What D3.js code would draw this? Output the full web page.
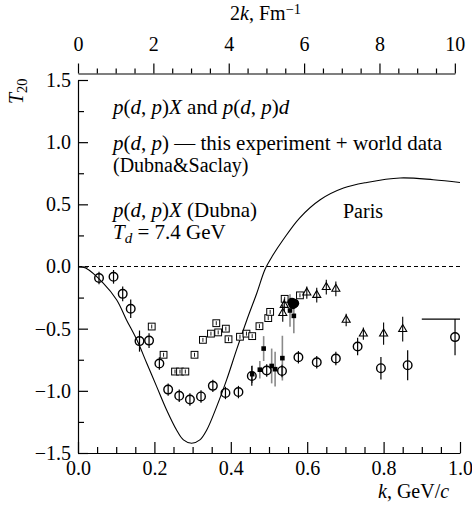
<!DOCTYPE html>
<html>
<head>
<meta charset="utf-8">
<script src="https://cdn.jsdelivr.net/npm/d3@7"></script>
<style>
  body { margin: 0; background: #fff; }
  svg { font-family: "Liberation Serif", "Times New Roman", serif; }
  .axis path, .axis line { stroke: #000; stroke-width: 1.2; }
  .axis text { font-size: 20px; fill: #000; font-family: "Liberation Serif", serif; }
</style>
</head>
<body>
<svg id="chart" width="472" height="506"></svg>
<script>
// T20 vs k
// open circles: p(d,p)X, Dubna   [k, T20, error]
var circlePts = [
  [0.055, -0.093, 0.05], [0.093, -0.083, 0.055], [0.117, -0.22, 0.06], [0.138, -0.34, 0.075],
  [0.161, -0.60, 0.085], [0.186, -0.596, 0.06], [0.213, -0.78, 0.04], [0.236, -0.99, 0.03],
  [0.265, -1.04, 0.03], [0.293, -1.07, 0.03], [0.322, -1.045, 0.03], [0.353, -0.96, 0.03],
  [0.386, -1.017, 0.03], [0.420, -1.01, 0.03], [0.455, -0.88, 0.08], [0.494, -0.837, 0.04],
  [0.534, -0.84, 0.05], [0.577, -0.73, 0.04], [0.625, -0.77, 0.045], [0.675, -0.74, 0.055],
  [0.732, -0.644, 0.07], [0.793, -0.818, 0.09], [0.863, -0.794, 0.12], [0.987, -0.568, 0.145]
];
// open squares: p(d,p)d world data   [k, T20]
var squarePts = [
  [0.193, -0.483], [0.224, -0.71], [0.254, -0.845], [0.267, -0.845], [0.281, -0.845],
  [0.305, -0.71], [0.327, -0.59], [0.348, -0.54], [0.362, -0.456], [0.367, -0.53],
  [0.387, -0.50], [0.394, -0.585], [0.424, -0.565], [0.441, -0.54], [0.456, -0.56],
  [0.475, -0.48], [0.498, -0.415], [0.503, -0.365], [0.541, -0.26], [0.581, -0.232]
];
// open triangles   [k, T20, error]
var trianglePts = [
  [0.536, -0.375, 0.07], [0.540, -0.31, 0.05], [0.599, -0.21, 0.05], [0.625, -0.23, 0.06],
  [0.650, -0.166, 0.06], [0.675, -0.18, 0.06], [0.702, -0.43, 0.05], [0.747, -0.54, 0.05],
  [0.800, -0.54, 0.09], [0.850, -0.504, 0.1]
];
// small filled squares (grey error bars)   [k, T20, error]
var filledSquarePts = [
  [0.456, -0.866, 0.07], [0.476, -0.83, 0.07], [0.486, -0.66, 0.1], [0.507, -0.80, 0.14],
  [0.516, -0.826, 0.14], [0.535, -0.737, 0.18], [0.555, -0.354, 0.13], [0.565, -0.397, 0.14]
];
// filled circles (overlapping cluster)
var filledCirclePts = [[0.560, -0.288], [0.567, -0.296], [0.563, -0.306]];
// horizontal segment at the right   [k1, k2, T20]
var rightSegment = [0.90, 1.0, -0.424];
// Paris potential curve   [k, T20]
var parisCurve = [
  [0, 0], [0.02, -0.013], [0.066, -0.134], [0.101, -0.268], [0.127, -0.43], [0.154, -0.59],
  [0.18, -0.778], [0.206, -0.966], [0.232, -1.154], [0.258, -1.315], [0.276, -1.395],
  [0.2975, -1.422], [0.319, -1.395], [0.337, -1.315], [0.363, -1.127], [0.389, -0.912],
  [0.415, -0.671], [0.442, -0.43], [0.468, -0.215], [0.49, -0.02], [0.51, 0.09],
  [0.537, 0.215], [0.58, 0.39], [0.634, 0.537], [0.695, 0.631], [0.756, 0.676],
  [0.843, 0.712], [0.93, 0.698], [1.0, 0.676]
];
// tick values
var kTicks = [0, 0.2, 0.4, 0.6, 0.8, 1.0];
var tTicks = [-1.5, -1.0, -0.5, 0, 0.5, 1.0, 1.5];
var fmTicks = [0, 2, 4, 6, 8, 10];

var svg = d3.select('#chart');
var x = d3.scaleLinear().domain([0, 1]).range([78, 460]);
var y = d3.scaleLinear().domain([-1.5, 1.5]).range([453, 80]);
// 2k in fm^-1 : 1 GeV/c = 1/0.1973 fm^-1
var fm = d3.scaleLinear().domain([0, 10]).range([x(0), x(10 * 0.1973 / 2)]);

// ---- axes ----
var fmt = d3.format('.1f');
svg.append('g').attr('class', 'axis')
    .attr('transform', 'translate(' + x(0) + ',0)')
    .call(d3.axisLeft(y).tickValues(tTicks).tickSize(-10).tickSizeOuter(0).tickPadding(7).tickFormat(fmt));
svg.append('g').attr('class', 'axis')
    .attr('transform', 'translate(' + x(0) + ',0)')
    .call(d3.axisLeft(y).tickValues(d3.range(-1.25, 1.5, 0.5)).tickSize(-6).tickSizeOuter(0).tickFormat(''))
    .select('.domain').remove();

svg.append('g').attr('class', 'axis')
    .attr('transform', 'translate(0,' + y(-1.5) + ')')
    .call(d3.axisBottom(x).tickValues(kTicks).tickSize(-11).tickSizeOuter(0).tickPadding(8).tickFormat(fmt));
svg.append('g').attr('class', 'axis')
    .attr('transform', 'translate(0,' + y(-1.5) + ')')
    .call(d3.axisBottom(x).tickValues(d3.range(0.05, 1, 0.05).filter(function(v) { return Math.abs(v * 5 - Math.round(v * 5)) > 1e-6; }))
        .tickSize(-6).tickSizeOuter(0).tickFormat(''))
    .select('.domain').remove();

var topY = 73.5;
svg.append('g').attr('class', 'axis')
    .attr('transform', 'translate(0,' + topY + ')')
    .call(d3.axisTop(fm).tickValues(fmTicks).tickSize(10).tickSizeOuter(0).tickPadding(13).tickFormat(d3.format('d')));
svg.append('g').attr('class', 'axis')
    .attr('transform', 'translate(0,' + topY + ')')
    .call(d3.axisTop(fm).tickValues(d3.range(0.5, 10, 0.5).filter(function(v) { return v % 2 !== 0; }))
        .tickSize(5).tickSizeOuter(0).tickFormat(''))
    .select('.domain').remove();

// zero line
svg.append('line')
    .attr('x1', x(0)).attr('x2', x(1)).attr('y1', y(0)).attr('y2', y(0))
    .attr('stroke', '#000').attr('stroke-width', 1).attr('stroke-dasharray', '4,3');

// ---- Paris curve ----
var line = d3.line()
    .x(function(d) { return x(d[0]); })
    .y(function(d) { return y(d[1]); })
    .curve(d3.curveCatmullRom.alpha(0.5));
svg.append('path').datum(parisCurve)
    .attr('d', line).attr('fill', 'none').attr('stroke', '#000').attr('stroke-width', 1.1);

// ---- data points ----
function errBar(g, data, minHalf, color, width) {
    g.selectAll('line.err').data(data).enter().append('line')
        .attr('class', 'err')
        .attr('x1', function(d) { return x(d[0]); })
        .attr('x2', function(d) { return x(d[0]); })
        .attr('y1', function(d) { return Math.min(y(d[1] + d[2]), y(d[1]) - minHalf); })
        .attr('y2', function(d) { return Math.max(y(d[1] - d[2]), y(d[1]) + minHalf); })
        .attr('stroke', color).attr('stroke-width', width);
}

// filled squares with grey bars
var gFS = svg.append('g');
errBar(gFS, filledSquarePts, 3, '#8a8a8a', 1.6);
gFS.selectAll('rect').data(filledSquarePts).enter().append('rect')
    .attr('x', function(d) { return x(d[0]) - 2.3; })
    .attr('y', function(d) { return y(d[1]) - 2.3; })
    .attr('width', 4.6).attr('height', 4.6).attr('fill', '#000');

// open squares
var gSq = svg.append('g');
gSq.selectAll('rect').data(squarePts).enter().append('rect')
    .attr('x', function(d) { return x(d[0]) - 3.4; })
    .attr('y', function(d) { return y(d[1]) - 3.4; })
    .attr('width', 6.8).attr('height', 6.8)
    .attr('fill', '#fff').attr('stroke', '#000').attr('stroke-width', 1);
gSq.selectAll('line').data(squarePts).enter().append('line')
    .attr('x1', function(d) { return x(d[0]); })
    .attr('x2', function(d) { return x(d[0]); })
    .attr('y1', function(d) { return y(d[1]) - 2; })
    .attr('y2', function(d) { return y(d[1]) + 2; })
    .attr('stroke', '#000').attr('stroke-width', 0.9);

// open triangles
var gTr = svg.append('g');
errBar(gTr, trianglePts, 6, '#000', 1.1);
gTr.selectAll('path').data(trianglePts).enter().append('path')
    .attr('d', d3.symbol().type(d3.symbolTriangle).size(28))
    .attr('transform', function(d) { return 'translate(' + x(d[0]) + ',' + y(d[1]) + ')'; })
    .attr('fill', 'none').attr('stroke', '#000').attr('stroke-width', 1.1);

// open circles
var gC = svg.append('g');
errBar(gC, circlePts, 6.2, '#000', 1.2);
gC.selectAll('circle').data(circlePts).enter().append('circle')
    .attr('cx', function(d) { return x(d[0]); })
    .attr('cy', function(d) { return y(d[1]); })
    .attr('r', 4.3)
    .attr('fill', 'none').attr('stroke', '#000').attr('stroke-width', 1.4);

// filled circles
svg.append('g').selectAll('circle').data(filledCirclePts).enter().append('circle')
    .attr('cx', function(d) { return x(d[0]); })
    .attr('cy', function(d) { return y(d[1]); })
    .attr('r', 4.6).attr('fill', '#000');

// horizontal segment
svg.append('line')
    .attr('x1', x(rightSegment[0])).attr('x2', x(rightSegment[1]))
    .attr('y1', y(rightSegment[2])).attr('y2', y(rightSegment[2]))
    .attr('stroke', '#000').attr('stroke-width', 1.3);

// ---- text ----
// segments: [text, italic?, shift] shift: 'sub' / 'sup'
function richText(xPos, yPos, segs, size) {
    size = size || 21;
    var t = svg.append('text').attr('x', xPos).attr('y', yPos)
        .attr('font-size', size).attr('fill', '#000');
    segs.forEach(function(s) {
        var ts = t.append('tspan').text(s[0]);
        if (s[1]) ts.attr('font-style', 'italic');
        if (s[2] === 'sub') ts.attr('baseline-shift', '-25%').attr('font-size', size * 0.72);
        if (s[2] === 'sup') ts.attr('baseline-shift', '40%').attr('font-size', size * 0.72);
    });
    return t;
}

richText(113, 114, [['p', 1], ['('], ['d', 1], [', '], ['p', 1], [')'], ['X', 1], [' and '],
                    ['p', 1], ['('], ['d', 1], [', '], ['p', 1], [')'], ['d', 1]]);
richText(113, 150, [['p', 1], ['('], ['d', 1], [', '], ['p', 1], [') \u2014 this experiment + world data']]);
richText(113, 172, [['(Dubna&Saclay)']], 20);
richText(113, 217, [['p', 1], ['('], ['d', 1], [', '], ['p', 1], [')'], ['X', 1], [' (Dubna)']]);
richText(113, 239, [['T', 1], ['d', 1, 'sub'], [' = 7.4 GeV']]);
richText(343, 218, [['Paris']], 20);

// axis titles
richText(378, 498, [['k', 1], [', GeV/'], ['c', 1]], 20);
richText(230, 20, [['2'], ['k', 1], [', Fm'], ['\u22121', 0, 'sup']], 20);
richText(0, 0, [['T', 1], ['20', 0, 'sub']], 20)
    .attr('transform', 'translate(23,104) rotate(-90)');
</script>
</body>
</html>
